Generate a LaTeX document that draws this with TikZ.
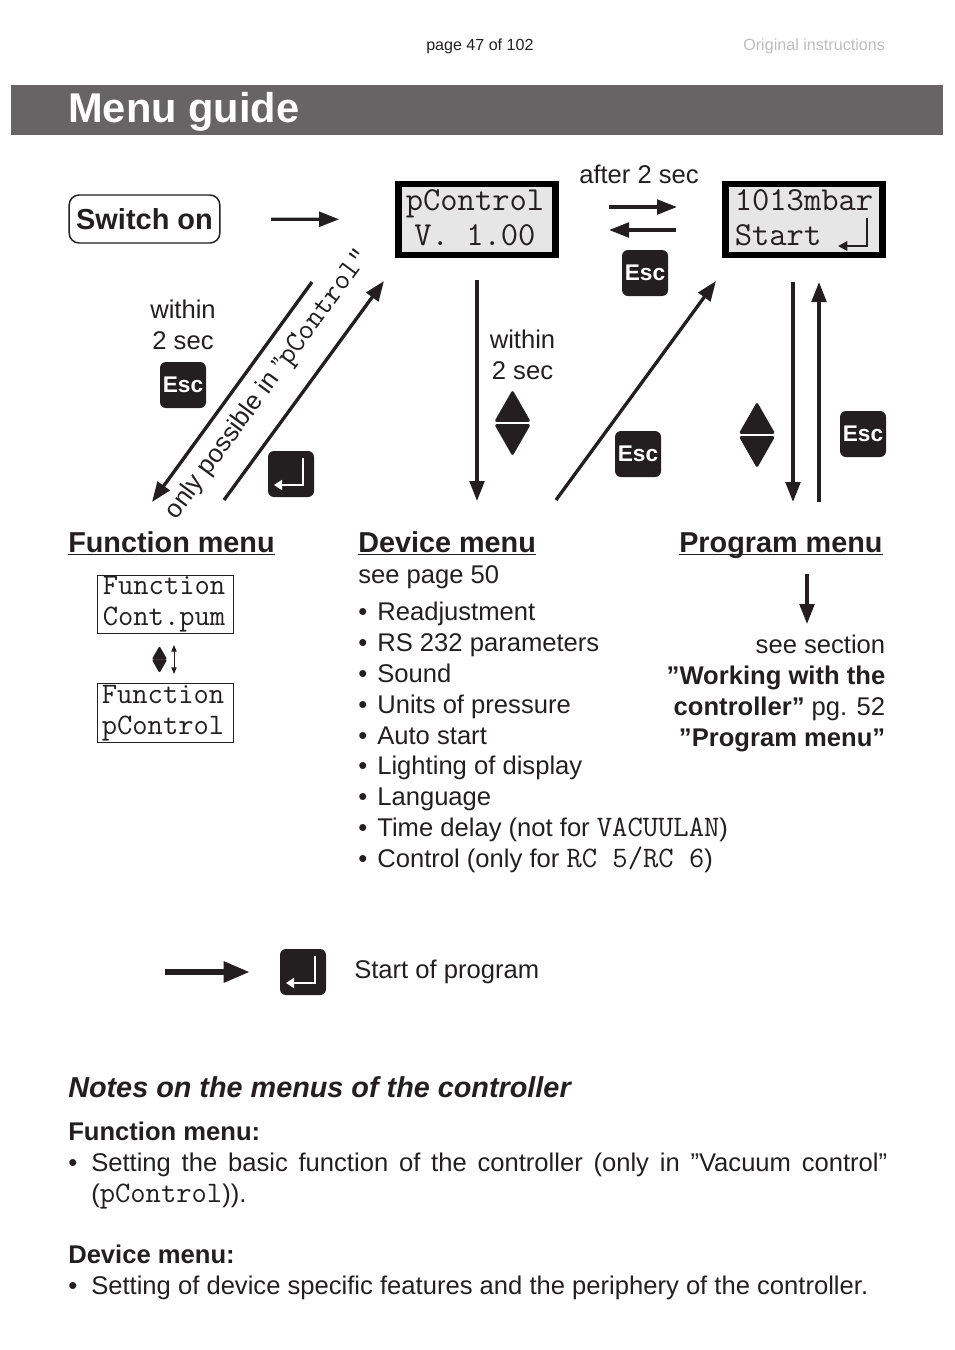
\documentclass[tikz,border=0pt]{standalone}
\usepackage{fontspec}
\usepackage{xcolor}
\setmainfont{Liberation Sans}
\usetikzlibrary{arrows.meta,positioning}
\definecolor{ink}{HTML}{231F20}
\definecolor{band}{HTML}{666465}
\definecolor{lcdbg}{HTML}{E6E6E6}
\definecolor{faint}{HTML}{BDBDBD}
\newcommand{\bodyfont}{\fontsize{19.2}{23.2}\selectfont}
\newcommand{\monotxt}[1]{{\ttfamily\fontsize{22.3}{23.2}\selectfont #1}}
\newcommand{\itm}{\makebox[14.3pt][l]{\textbullet}}
\newcommand{\enterkey}[2]{%
  \node[keybox] (#1) at #2 {};
  \draw[enterline] ([shift={(12,-16)}]#1.center) |- ([shift={(-17,11)}]#1.center);}
\tikzset{
  updown/.pic={
    \path[pic actions] (-16,-2.5) -- (0,-30.5) -- (16,-2.5) -- cycle;
    \path[pic actions] (-16,2.5) -- (0,30.5) -- (16,2.5) -- cycle;
  }
}
\begin{document}
\begin{tikzpicture}[
  x=0.75pt, y=-0.75pt,
  txt/.style={inner sep=0pt, text=ink, font=\bodyfont, anchor=base west},
  head/.style={inner sep=0pt, text=ink, font=\fontsize{21.6}{26}\selectfont\bfseries, anchor=base west},
  block/.style={txt, anchor=north west, align=left},
  keybox/.style={fill=ink, rounded corners=4.5pt, minimum size=34.5pt, inner sep=0pt},
  esc/.style={keybox, text=white, font=\fontsize{17}{20}\selectfont\bfseries},
  enterline/.style={draw=white, line width=1.3pt, -{Triangle[length=6pt,width=7.5pt]}},
  lcd/.style={draw=black, line width=4.8pt, fill=lcdbg, minimum width=118pt, minimum height=53pt, inner sep=0pt},
  lcdtext/.style={inner sep=0pt, text=ink, font=\ttfamily\fontsize{25.2}{26.3}\selectfont},
  fnbox/.style={draw=ink, line width=0.75pt, minimum width=102pt, minimum height=44pt, inner sep=0pt},
  fntext/.style={inner sep=0pt, text=ink, align=left, font=\ttfamily\fontsize{22.3}{23.2}\selectfont},
  route/.style={draw=ink, line width=2.5pt, -{Triangle[length=15pt,width=11pt]}},
  updownkey/.style={fill=ink, draw=ink, line width=2pt, line join=round}
]
\useasboundingbox (0,0) rectangle (954,1350);
% header
\node[txt, font=\fontsize{12.05}{15}\selectfont] (pageno) at (426,50) {page 47 of 102};
\node[txt, font=\fontsize{12.1}{15}\selectfont, text=faint] (origin) at (743,50) {Original instructions};
\fill[band] (11,85) rectangle (943,135);
\node[txt, text=white, font=\fontsize{31.2}{36}\selectfont\bfseries] (title) at (68,122) {Menu guide};

% top row
\node[draw=ink, line width=1.1pt, rounded corners=7.5pt, minimum width=113pt, minimum height=36pt,
      inner sep=0pt, text=ink, font=\fontsize{21.7}{26}\selectfont\bfseries] (switch) at (144.5,219) {Switch on};
\node[lcd] (pcontrol) at (477,219.5) {};
\node[lcdtext, align=center] (pcontroltxt) at (475,218) {pControl\\V. 1.00};
\node[lcd] (start) at (804,219.5) {};
\node[lcdtext, align=left] (starttxt) at (804,218) {1013mbar\\Start};
\draw[draw=ink, line width=1.6pt, -{Triangle[length=7pt,width=7pt]}] (867,218) |- (838,246);
\node[txt] (after) at (579,183) {after 2 sec};
\coordinate (afterA) at (609,207);
\coordinate (afterB) at (677,207);
\coordinate (backA) at (676,230);
\coordinate (backB) at (609,230);
\draw[route] (afterA) -- (afterB);
\draw[route] (backA) -- (backB);
\node[esc] (escback) at (645,273) {Esc};
\draw[route, shorten <=38pt, shorten >=42pt] (switch) -- (pcontrol);

% function branch
\node[txt, align=center, anchor=north] (withinA) at (183,299.5) {within\\2 sec};
\node[esc] (escfn) at (183,385) {Esc};
\coordinate (fnA) at (312,282);
\coordinate (fnB) at (152,502);
\coordinate (fnC) at (224,500);
\coordinate (fnD) at (384,281);
\draw[route] (fnA) -- (fnB);
\draw[route] (fnC) -- (fnD);
\node[txt, anchor=center, rotate=53.7] (onlypc) at (269,384.5) {only possible in ”\ttfamily\fontsize{22.3}{23.2}\selectfont pControl”};
\enterkey{enterfn}{(291,474)}

% device branch
\coordinate (devA) at (477,280);
\coordinate (devB) at (477,501);
\draw[route] (devA) -- (devB);
\node[txt, align=center, anchor=north] (withinB) at (522.5,329.5) {within\\2 sec};
\pic[updownkey] at (512.5,423) {updown};
\coordinate (escA) at (556,500);
\coordinate (escB) at (716,281);
\draw[route] (escA) -- (escB);
\node[esc] (escdev) at (638,454) {Esc};

% program branch
\coordinate (progA) at (793,282);
\coordinate (progB) at (793,502);
\coordinate (progC) at (819,502);
\coordinate (progD) at (819,282);
\draw[route] (progA) -- (progB);
\draw[route] (progC) -- (progD);
\pic[updownkey] at (757,435) {updown};
\node[esc] (escprog) at (863,434) {Esc};

% menus
\node[head] (fnmenu) at (68,552) {\underline{\smash{Function menu}}};
\node[head] (devmenu) at (358,552) {\underline{\smash{Device menu}}};
\node[head] (progmenu) at (679,552) {\underline{\smash{Program menu}}};
\node[txt] (seepage) at (358,583) {see page 50};
\node[fnbox] (fnone) at (165,604.5) {};
\node[fntext] at (164,604) (fnonetxt) {Function\\Cont.pum};
\node[fnbox] (fntwo) at (165,713) {};
\node[fntext] at (163,713.5) (fntwotxt) {Function\\pControl};
\pic[updownkey, line width=1.5pt, scale=0.38] at (159.5,659.5) {updown};
\draw[draw=ink, line width=0.7pt, {Triangle[length=5pt,width=4pt]}-{Triangle[length=5pt,width=4pt]}] (174,645) -- (174,674);
\node[block] (devlist) at (358,601.5) {\itm Readjustment\\
  \itm RS 232 parameters\\
  \itm Sound\\
  \itm Units of pressure\\
  \itm Auto start\\
  \itm Lighting of display\\
  \itm Language\\
  \itm Time delay (not for \monotxt{VACUULAN})\\
  \itm Control (only for \monotxt{RC 5/RC 6})};
\coordinate (seeA) at (807,574);
\coordinate (seeB) at (807,624);
\draw[route] (seeA) -- (seeB);
\node[block, anchor=north east, align=right] (seesec) at (885.5,635) {see section\\
  \textbf{”Working with the}\\
  \textbf{controller”} pg. 52\\
  \textbf{”Program menu”}};

% legend
\coordinate (legA) at (165,972);
\enterkey{enterleg}{(303,972)}
\draw[draw=ink, line width=4.2pt, -{Triangle[length=19.5pt,width=15pt]}, shorten >=22.5pt] (legA) -- (enterleg);
\node[txt] (legend) at (354,978) {Start of program};

% notes
\node[txt, font=\fontsize{21.6}{26}\selectfont\bfseries\itshape] (notes) at (68,1097) {Notes on the menus of the controller};
\node[txt, font=\bodyfont\bfseries] (fnnote) at (68,1140) {Function menu:};
\node[txt] (bulA) at (68,1171) {\textbullet};
\node[block, text width=597pt, align=justify] (fntext) at (91,1153) {Setting the basic function of the controller (only in ”Vacuum control” (\monotxt{pControl})).};
\node[txt, font=\bodyfont\bfseries] (devnote) at (68,1263) {Device menu:};
\node[txt] (bulB) at (68,1294) {\textbullet};
\node[txt] (devtext) at (91,1294) {Setting of device specific features and the periphery of the controller.};
\end{tikzpicture}
\end{document}
